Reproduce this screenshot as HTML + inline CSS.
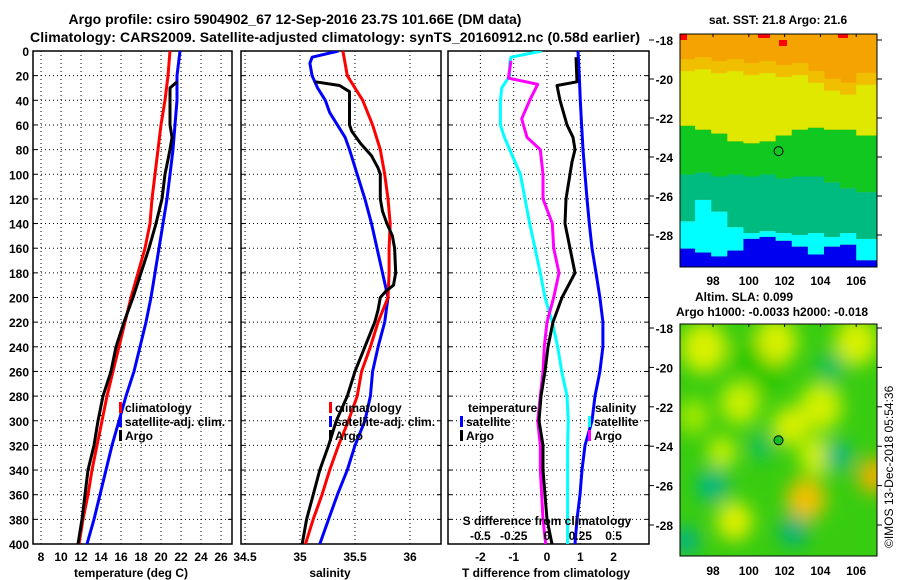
<!DOCTYPE html>
<html><head><meta charset="utf-8"><style>
html,body{margin:0;padding:0;background:#fff;}
svg{display:block;font-family:"Liberation Sans",Arial,sans-serif;font-weight:bold;}
</style></head><body>
<svg id="fig" width="900" height="580" viewBox="0 0 900 580" xmlns="http://www.w3.org/2000/svg">
<defs>
<clipPath id="c1"><rect x="33" y="51" width="199" height="493"/></clipPath>
<clipPath id="c2"><rect x="241" y="51" width="200" height="493"/></clipPath>
<clipPath id="c3"><rect x="448" y="51" width="201" height="493"/></clipPath>
<clipPath id="cm1"><rect x="680" y="34" width="197" height="233"/></clipPath>
<clipPath id="cm2"><rect x="680" y="324" width="197" height="232"/></clipPath>
<filter id="blur" x="-50%" y="-50%" width="200%" height="200%"><feGaussianBlur stdDeviation="9"/></filter>
</defs>
<text x="295" y="24" text-anchor="middle" font-size="14">Argo profile: csiro 5904902_67 12-Sep-2016 23.7S 101.66E (DM data)</text>
<text x="30" y="42" font-size="14" textLength="610">Climatology: CARS2009. Satellite-adjusted climatology: synTS_20160912.nc (0.58d earlier)</text>
<text x="778" y="24" text-anchor="middle" font-size="12">sat. SST: 21.8 Argo: 21.6</text>
<text x="695" y="301" font-size="12">Altim. SLA: 0.099</text>
<text x="676" y="316" font-size="12">Argo h1000: -0.0033 h2000: -0.018</text>
<text transform="translate(893,548) rotate(-90)" font-size="12" font-weight="normal">©IMOS 13-Dec-2018 05:54:36</text>
<g id="g1"></g><g id="g2"></g><g id="g3"></g><g id="m1"></g><g id="m2"></g>
</svg>
<script>
// ---- data ----
const depthTicks=[0,20,40,60,80,100,120,140,160,180,200,220,240,260,280,300,320,340,360,380,400];
const tempTicks=[8,10,12,14,16,18,20,22,24,26];
const salTicks=[34.5,35,35.5,36];
const salTickLabels=["34.5","35","35.5","36"];
const dTTicks=[-2,-1,0,1,2];
const dSTicks=[-0.5,-0.25,0,0.25,0.5];
const dSTickLabels=["-0.5","-0.25","0","0.25","0.5"];
const stdDepth=[0,20,40,60,80,100,120,140,160,180,200,220,240,260,280,300,320,340,360,380,400];
const tempClim=[20.9,20.7,20.4,20.0,19.7,19.4,19.1,18.9,18.4,17.7,17.0,16.4,15.8,15.2,14.6,14.1,13.6,13.1,12.7,12.2,11.8];
const tempSat=[21.9,21.6,21.6,21.4,21.2,20.9,20.6,20.2,19.8,19.4,19.0,18.5,17.9,17.3,16.5,15.8,15.1,14.5,13.9,13.3,12.6];
const argoDepth=[25,30,60,70,80,100,120,140,160,180,200,220,240,260,280,300,320,340,360,380,400];
const tempArgo=[21.6,20.9,20.9,21.1,20.9,20.4,20.1,19.5,18.8,18.0,17.2,16.3,15.5,15.0,14.2,13.7,13.3,12.7,12.4,12.1,11.7];
const salClim=[35.39,35.43,35.57,35.66,35.73,35.77,35.80,35.82,35.81,35.81,35.80,35.71,35.64,35.56,35.52,35.44,35.35,35.27,35.20,35.12,35.05];
const satSalDepth=[0,5,10,20,30,40,50,60,70,80,100,120,140,160,180,200,220,240,260,280,300,320,340,360,380,400];
const salSat=[35.35,35.11,35.09,35.11,35.16,35.23,35.27,35.34,35.41,35.45,35.52,35.59,35.65,35.70,35.75,35.80,35.77,35.71,35.66,35.64,35.59,35.50,35.43,35.34,35.26,35.18];
const argoSalDepth=[25,28,33,60,65,75,85,95,100,120,130,140,150,160,180,190,195,200,210,220,240,260,280,300,320,340,360,380,400];
const salArgo=[35.14,35.36,35.45,35.45,35.47,35.55,35.65,35.71,35.73,35.73,35.75,35.79,35.84,35.86,35.87,35.85,35.78,35.73,35.71,35.68,35.59,35.50,35.43,35.33,35.26,35.18,35.12,35.06,35.02];
const dSSat=[-0.04,-0.27,-0.28,-0.28,-0.34,-0.35,-0.35,-0.35,-0.32,-0.28,-0.20,-0.165,-0.13,-0.09,-0.05,-0.015,0.04,0.08,0.11,0.15,0.16,0.155,0.155,0.155,0.155,0.155];
const dSArgoDepth=[8,22,27,40,55,70,80,100,120,140,160,180,200,220,240,260,280,300,320,340,360,380,400];
const dSArgo=[-0.27,-0.29,-0.07,-0.13,-0.19,-0.15,-0.05,-0.03,-0.03,0.04,0.05,0.09,0.05,0.0,-0.02,-0.03,-0.05,-0.07,-0.05,-0.05,-0.04,-0.03,-0.01];
const dTSat=[0.93,0.97,1.0,1.04,1.08,1.14,1.2,1.27,1.35,1.47,1.59,1.68,1.68,1.59,1.44,1.35,1.14,1.05,0.99,0.9,0.84];
const dTArgoDepth=[5,25,28,40,60,70,80,90,100,120,140,160,180,200,220,240,260,280,300,320,340,360,380,400];
const dTArgo=[0.87,0.9,0.3,0.39,0.6,0.78,0.84,0.75,0.69,0.57,0.54,0.69,0.84,0.45,0.18,0.03,-0.06,-0.18,-0.24,-0.12,-0.12,-0.06,0.0,0.15];
// maps
const latTicks=[-18,-20,-22,-24,-26,-28];
const lonTicks=[98,100,102,104,106];
const colLon=[96.15,97.0,97.9,98.8,99.7,100.6,101.5,102.4,103.3,104.2,105.1,106.0,107.2];
const bOrange=[-19.6,-19.5,-19.7,-19.6,-19.8,-19.7,-19.9,-19.8,-20.2,-20.6,-20.8,-20.3];
const bYellow=[-22.4,-22.6,-22.8,-23.2,-23.3,-23.2,-22.9,-22.6,-22.5,-22.6,-22.6,-22.9];
const bGreen=[-24.9,-24.8,-25.0,-24.9,-25.0,-24.9,-25.1,-25.0,-25.0,-25.3,-25.6,-25.8];
const bTeal=[-27.3,-26.2,-26.8,-27.6,-27.9,-27.8,-27.9,-28.0,-27.9,-28.1,-27.9,-28.2];
const bCyan=[-28.7,-28.9,-29.1,-28.8,-28.2,-28.1,-28.3,-28.6,-29.0,-28.6,-28.5,-29.3];
const blobLon=[97.5,101.5,106.0,99.5,104.0,102.3,98.5,103.8,103.2,107.0,99.2,96.9,98.0,105.0,102.5,96.5,100.7,104.6,101.0,100.0];
const blobLat=[-19.0,-18.7,-18.7,-21.8,-22.0,-23.0,-24.3,-24.5,-26.7,-25.5,-27.8,-22.5,-26.0,-24.5,-28.3,-28.8,-24.0,-20.0,-20.5,-19.5];
const blobR=[1.3,1.2,1.2,1.1,1.2,1.0,0.8,1.0,1.1,0.9,1.0,0.9,0.9,0.8,0.8,0.7,0.7,0.8,0.8,0.8];
const blobColor=["#d8f000","#d8f000","#d8f000","#c8f000","#d0f000","#d8f000","#c8f000","#d0f000","#f0c000","#f0b000","#e0f000","#a0e800","#00b880","#00b880","#00b080","#00b090","#10c060","#10c060","#20c800","#20c800"];

// ---- helpers ----
const NS="http://www.w3.org/2000/svg";
function mk(tag,parent,attrs){const e=document.createElementNS(NS,tag);for(const k in attrs)e.setAttribute(k,attrs[k]);parent.appendChild(e);return e;}
const Y0=51,YS=493/400;
const yD=d=>Y0+d*YS;
const x1=t=>41+(t-8)*10;
const x2=s=>300+(s-35)*110;
const x3=v=>547+v*33.3;
const x3s=v=>547+v*133.2;
const mx=lon=>713+(lon-98)*17.9;
const my1=lat=>40+(-18-lat)*19.5;
const my2=lat=>328+(-18-lat)*19.7;

function panel(g,L,R,clip,xt,xfun,xlabels,title,tx){
  for(const t of xt){const x=xfun(t);
    const l=mk('line',g,{x1:x,x2:x,y1:Y0,y2:yD(400),stroke:'#000','stroke-width':1,'stroke-dasharray':'1 3'});
    }
  for(const d of depthTicks){const y=yD(d);
    const l=mk('line',g,{x1:L,x2:R,y1:y,y2:y,stroke:'#000','stroke-width':1,'stroke-dasharray':'1 3'});
    
    mk('line',g,{x1:L,x2:L+4,y1:y,y2:y,stroke:'#000'});mk('line',g,{x1:R-4,x2:R,y1:y,y2:y,stroke:'#000'});}
  const f=mk('rect',g,{x:L,y:Y0,width:R-L,height:yD(400)-Y0,fill:'none',stroke:'#000','stroke-width':1.5});
  
  xt.forEach((t,i)=>{const tt=mk('text',g,{x:xfun(t),y:561,'text-anchor':'middle','font-size':12});tt.textContent=xlabels[i];
    });
  const at=mk('text',g,{x:tx,y:577,'text-anchor':'middle','font-size':12});at.textContent=title;
  
}
function line(g,clip,depths,vals,xf,color,name){
  const pts=depths.map((d,i)=>xf(vals[i]).toFixed(1)+','+yD(d).toFixed(1)).join(' ');
  const p=mk('polyline',g,{points:pts,fill:'none',stroke:color,'stroke-width':3,'clip-path':'url(#'+clip+')','stroke-linejoin':'round'});
  
}
function legend(g,x,y,color,label,name){
  mk('rect',g,{x:x-2,y:y-10,width:3,height:11,fill:color});
  const t=mk('text',g,{x:x+4,y:y,'font-size':12});t.textContent=label;
  
}
// ---- panel 1 ----
const g1=document.getElementById('g1');
panel(g1,33,232,'c1',tempTicks,x1,tempTicks.map(String),'temperature (deg C)',131);
depthTicks.forEach(d=>{const t=mk('text',g1,{x:29,y:yD(d)+5,'text-anchor':'end','font-size':12});t.textContent=d;
  });
line(g1,'c1',stdDepth,tempSat,x1,'#0000ff','temp-satellite-line');
line(g1,'c1',stdDepth,tempClim,x1,'#ff0000','temp-climatology-line');
line(g1,'c1',argoDepth,tempArgo,x1,'#000000','temp-argo-line');
legend(g1,121,412,'#ff0000','climatology','legend-climatology');
legend(g1,121,426,'#0000ff','satellite-adj. clim.','legend-satellite-adj');
legend(g1,121,440,'#000','Argo','legend-argo');
// ---- panel 2 ----
const g2=document.getElementById('g2');
panel(g2,241,441,'c2',salTicks,x2,salTickLabels,'salinity',330);
line(g2,'c2',satSalDepth,salSat,x2,'#0000ff','sal-satellite-line');
line(g2,'c2',stdDepth,salClim,x2,'#ff0000','sal-climatology-line');
line(g2,'c2',argoSalDepth,salArgo,x2,'#000000','sal-argo-line');
legend(g2,331,412,'#ff0000','climatology','legend-climatology');
legend(g2,331,426,'#0000ff','satellite-adj. clim.','legend-satellite-adj');
legend(g2,331,440,'#000','Argo','legend-argo');
// ---- panel 3 ----
const g3=document.getElementById('g3');
panel(g3,448,649,'c3',dTTicks,x3,dTTicks.map(String),'T difference from climatology',546);
line(g3,'c3',satSalDepth,dSSat,x3s,'#00ffff','dS-satellite-line');
line(g3,'c3',dSArgoDepth,dSArgo,x3s,'#ff00ff','dS-argo-line');
line(g3,'c3',stdDepth,dTSat,x3,'#0000ff','dT-satellite-line');
line(g3,'c3',dTArgoDepth,dTArgo,x3,'#000000','dT-argo-line');
{const t=mk('text',g3,{x:547,y:525,'text-anchor':'middle','font-size':12});t.textContent='S difference from climatology';
 }
dSTicks.forEach((v,i)=>{const t=mk('text',g3,{x:x3s(v),y:540,'text-anchor':'middle','font-size':12});t.textContent=dSTickLabels[i];
 });
{const t=mk('text',g3,{x:468,y:412,'font-size':12});t.textContent='temperature';
 
 const s=mk('text',g3,{x:595,y:412,'font-size':12});s.textContent='salinity';
 }
legend(g3,462,426,'#0000ff','satellite','legend-t-satellite');
legend(g3,462,440,'#000','Argo','legend-t-argo');
legend(g3,590,426,'#00ffff','satellite','legend-s-satellite');
legend(g3,590,440,'#ff00ff','Argo','legend-s-argo');

// ---- maps ----
function mapAxes(g,top,bot,myf,lonY){
  const f=mk('rect',g,{x:680,y:top,width:197,height:bot-top,fill:'none',stroke:'#000','stroke-width':1});
  
  latTicks.forEach(l=>{const y=myf(l);mk('line',g,{x1:877,x2:882,y1:y,y2:y,stroke:'#000'});mk('line',g,{x1:649,x2:654,y1:y,y2:y,stroke:'#000'});
    const t=mk('text',g,{x:673,y:y+5,'text-anchor':'end','font-size':12});t.textContent=l;
    });
  lonTicks.forEach(l=>{const x=mx(l);mk('line',g,{x1:x,x2:x,y1:top,y2:top+3,stroke:'#000'});
    const t=mk('text',g,{x:x,y:lonY,'text-anchor':'middle','font-size':12});t.textContent=l;
    });
}
const m1=document.getElementById('m1');
const mg1=mk('g',m1,{'clip-path':'url(#cm1)'});

mk('rect',mg1,{x:680,y:34,width:197,height:233,fill:'#f5a300'});
for(let i=0;i<colLon.length-1;i++){
  const x=mx(colLon[i]),w=mx(colLon[i+1])-x+0.5;
  const bands=[[bOrange[i],bYellow[i],'#e0e800'],[bYellow[i],bGreen[i],'#10c820'],[bGreen[i],bTeal[i],'#00bb80'],[bTeal[i],bCyan[i],'#00ffff'],[bCyan[i],-31,'#0000f0']];
  mk('rect',mg1,{x:x,y:my1(bOrange[i])-12,width:w,height:14,fill:'#f0c000'});
  for(const b of bands){const r=mk('rect',mg1,{x:x,y:my1(b[0]),width:w,height:my1(b[1])-my1(b[0]),fill:b[2]});
    }
}
mk('rect',mg1,{x:680,y:34,width:7,height:6,fill:'#f00'});
mk('rect',mg1,{x:758,y:34,width:12,height:4,fill:'#f00'});
mk('rect',mg1,{x:838,y:34,width:10,height:4,fill:'#f00'});
mk('rect',mg1,{x:779,y:40,width:8,height:6,fill:'#f00'});
mk('circle',m1,{cx:mx(101.66),cy:my1(-23.7),r:4.5,fill:'none',stroke:'#000','stroke-width':1});
mapAxes(m1,34,267,my1,285);

const m2=document.getElementById('m2');
const mg2=mk('g',m2,{'clip-path':'url(#cm2)'});

mk('rect',mg2,{x:680,y:324,width:197,height:232,fill:'#38cc10'});
const bg=mk('g',mg2,{filter:'url(#blur)'});
blobLon.forEach((lo,i)=>{const e=mk('ellipse',bg,{cx:mx(lo),cy:my2(blobLat[i]),rx:blobR[i]*17.9,ry:blobR[i]*19.7,fill:blobColor[i]});
  });
mk('circle',m2,{cx:mx(101.66),cy:my2(-23.7),r:4.5,fill:'#10c020',stroke:'#000','stroke-width':1});
mapAxes(m2,324,556,my2,575);
</script>
</body></html>
